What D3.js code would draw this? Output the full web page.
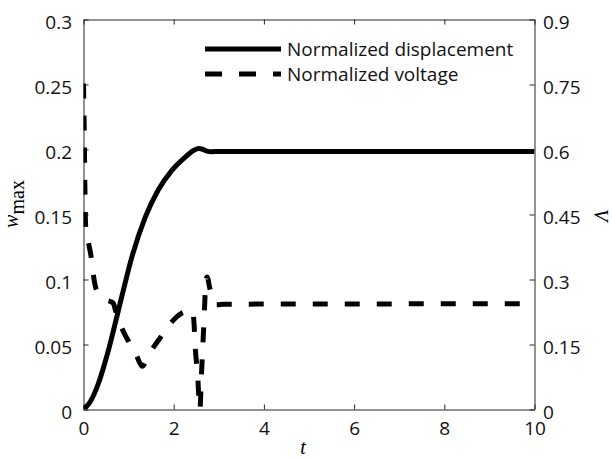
<!DOCTYPE html>
<html>
<head>
<meta charset="utf-8">
<script src="https://cdn.jsdelivr.net/npm/d3@7"></script>
<style>
  body { margin: 0; background: #fff; }
  svg { display: block; }
</style>
</head>
<body>
<svg id="chart" width="612" height="459"></svg>
<script>
// Normalized tip displacement w_max against time t (left axis)
const timeDisp = [0, 0.15, 0.33, 0.5, 0.63, 0.85, 1.07, 1.37, 1.66, 1.96, 2.25, 2.45, 2.56, 2.64, 2.74, 2.84, 3.0, 10];
const wMax     = [0, 0.006, 0.020, 0.039, 0.056, 0.087, 0.117, 0.148, 0.169, 0.184, 0.194, 0.1995, 0.2007, 0.2002, 0.1988, 0.1983, 0.1985, 0.1985];

// Normalized voltage V against time t (right axis)
const timeVolt = [0, 0.015, 0.03, 0.045, 0.07, 0.11, 0.18, 0.22, 0.29, 0.4, 0.52, 0.6, 0.66, 0.72, 0.84, 1.0, 1.17, 1.3, 1.48, 1.71, 1.93, 2.17, 2.35, 2.42, 2.45, 2.48, 2.53, 2.58, 2.62, 2.67, 2.71, 2.74, 2.8, 2.88, 2.95, 3.1, 10];
const voltage  = [0.752, 0.65, 0.52, 0.43, 0.40, 0.384, 0.345, 0.31, 0.275, 0.262, 0.252, 0.249, 0.245, 0.225, 0.19, 0.157, 0.126, 0.100, 0.132, 0.167, 0.199, 0.222, 0.228, 0.229, 0.2, 0.14, 0.08, 0.0, 0.09, 0.2, 0.29, 0.306, 0.28, 0.25, 0.242, 0.243, 0.244];

const tTicks = [0, 2, 4, 6, 8, 10];
const wTicks = [0, 0.05, 0.1, 0.15, 0.2, 0.25, 0.3];
const vTicks = [0, 0.15, 0.3, 0.45, 0.6, 0.75, 0.9];
const seriesNames = ["Normalized displacement", "Normalized voltage"];

const box = { left: 83.5, right: 534.5, top: 19.5, bottom: 409.5 };
const axisColor = "#262626";
const tickFont = "'Open Sans', sans-serif";

const svg = d3.select("#chart");

const x  = d3.scaleLinear().domain([0, 10]).range([box.left, box.right]);
const yL = d3.scaleLinear().domain([0, 0.3]).range([box.bottom, box.top]);
const yR = d3.scaleLinear().domain([0, 0.9]).range([box.bottom, box.top]);

const fmt = d => String(d);

// clip region for the data lines
svg.append("defs").append("clipPath").attr("id", "plotClip")
  .append("rect")
  .attr("x", box.left).attr("y", box.top)
  .attr("width", box.right - box.left).attr("height", box.bottom - box.top);

function styleAxis(g) {
  g.select(".domain").attr("stroke", axisColor).attr("stroke-width", 1);
  g.selectAll(".tick line").attr("stroke", axisColor).attr("stroke-width", 1);
  g.selectAll(".tick text")
    .attr("fill", "#111")
    .style("font-family", tickFont)
    .style("font-size", "19px");
}

// bottom axis
const gB = svg.append("g").attr("transform", `translate(0,${box.bottom})`)
  .call(d3.axisBottom(x).tickValues(tTicks).tickFormat(fmt).tickSizeInner(-5).tickSizeOuter(0).tickPadding(12.5));
styleAxis(gB);
gB.selectAll(".tick text").attr("dy", "0.71em");

// top axis (ticks only)
const gT = svg.append("g").attr("transform", `translate(0,${box.top})`)
  .call(d3.axisTop(x).tickValues(tTicks).tickFormat("").tickSizeInner(-5).tickSizeOuter(0));
styleAxis(gT);

// left axis
const gL = svg.append("g").attr("transform", `translate(${box.left},0)`)
  .call(d3.axisLeft(yL).tickValues(wTicks).tickFormat(fmt).tickSizeInner(-5).tickSizeOuter(0).tickPadding(11.5));
styleAxis(gL);
gL.selectAll(".tick text").attr("dy", "0.45em");

// right axis
const gR = svg.append("g").attr("transform", `translate(${box.right},0)`)
  .call(d3.axisRight(yR).tickValues(vTicks).tickFormat(fmt).tickSizeInner(-5).tickSizeOuter(0).tickPadding(8.5));
styleAxis(gR);
gR.selectAll(".tick text").attr("dy", "0.45em");

// data lines
const dispLine = d3.line()
  .x(d => x(d[0])).y(d => yL(d[1]))
  .curve(d3.curveMonotoneX);
const voltLine = d3.line()
  .x(d => x(d[0])).y(d => yR(d[1]))
  .curve(d3.curveMonotoneX);

const plot = svg.append("g").attr("clip-path", "url(#plotClip)");

plot.append("path")
  .datum(timeDisp.map((t, i) => [t, wMax[i]]))
  .attr("d", dispLine)
  .attr("fill", "none").attr("stroke", "#000")
  .attr("stroke-width", 5).attr("stroke-linejoin", "round");

plot.append("path")
  .datum(timeVolt.map((t, i) => [t, voltage[i]]))
  .attr("d", voltLine)
  .attr("fill", "none").attr("stroke", "#000")
  .attr("stroke-width", 5).attr("stroke-dasharray", "15,17")
  .attr("stroke-linejoin", "miter");

// legend
const legend = svg.append("g");
const legendRows = [
  { name: seriesNames[0], y: 49, dash: null },
  { name: seriesNames[1], y: 74, dash: "17,17" }
];
legendRows.forEach(r => {
  legend.append("line")
    .attr("x1", 205).attr("x2", 281)
    .attr("y1", r.y).attr("y2", r.y)
    .attr("stroke", "#000").attr("stroke-width", 5)
    .attr("stroke-dasharray", r.dash);
  legend.append("text")
    .attr("x", 287).attr("y", r.y + 7)
    .attr("fill", "#111")
    .style("font-family", tickFont).style("font-size", "19px")
    .text(r.name);
});

// axis titles
const serif = "'Liberation Serif', 'Times New Roman', serif";
svg.append("text")
  .attr("x", (box.left + box.right) / 2 - 6).attr("y", 454)
  .attr("text-anchor", "middle")
  .style("font-family", serif).style("font-style", "italic").style("font-size", "20px")
  .text("t");

const yTitle = svg.append("text")
  .attr("transform", `translate(18,204) rotate(-90)`)
  .attr("text-anchor", "middle")
  .style("font-family", serif).style("font-size", "20px");
yTitle.append("tspan").style("font-style", "italic").text("w");
yTitle.append("tspan").attr("dy", 6).text("max");

svg.append("text")
  .attr("transform", `translate(594,215) rotate(90)`)
  .attr("text-anchor", "middle")
  .style("font-family", serif).style("font-style", "italic").style("font-size", "20px")
  .text("V");
</script>
</body>
</html>
